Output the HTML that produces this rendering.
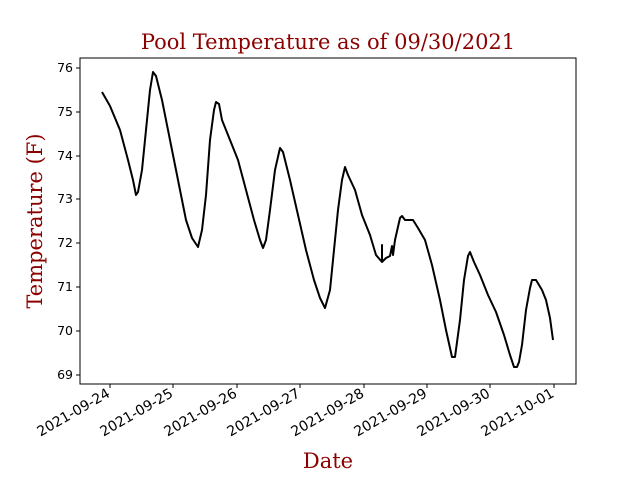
<!DOCTYPE html>
<html><head><style>body{margin:0;background:#fff}svg{display:block}</style></head><body>
<svg width="640" height="480" xmlns="http://www.w3.org/2000/svg" font-family="DejaVu Sans, Liberation Sans, sans-serif">
<rect x="80" y="58" width="496" height="326" fill="none" stroke="#000" stroke-width="1"/>
<g stroke="#000" stroke-width="1">
<line x1="80" y1="68" x2="76" y2="68"/><line x1="80" y1="112" x2="76" y2="112"/><line x1="80" y1="156" x2="76" y2="156"/><line x1="80" y1="199" x2="76" y2="199"/><line x1="80" y1="243" x2="76" y2="243"/><line x1="80" y1="287" x2="76" y2="287"/><line x1="80" y1="331" x2="76" y2="331"/><line x1="80" y1="375" x2="76" y2="375"/>
<line x1="110" y1="384" x2="110" y2="388"/><line x1="173" y1="384" x2="173" y2="388"/><line x1="237" y1="384" x2="237" y2="388"/><line x1="300" y1="384" x2="300" y2="388"/><line x1="364" y1="384" x2="364" y2="388"/><line x1="427" y1="384" x2="427" y2="388"/><line x1="490" y1="384" x2="490" y2="388"/><line x1="554" y1="384" x2="554" y2="388"/>
</g>
<g font-size="12.5" text-anchor="end">
<text x="73" y="72">76</text><text x="73" y="116">75</text><text x="73" y="160">74</text><text x="73" y="203">73</text><text x="73" y="247">72</text><text x="73" y="291">71</text><text x="73" y="335">70</text><text x="73" y="379">69</text>
</g>
<g font-size="14" text-anchor="end">
<text transform="translate(111,396) rotate(-30)">2021-09-24</text>
<text transform="translate(174,396) rotate(-30)">2021-09-25</text>
<text transform="translate(238,396) rotate(-30)">2021-09-26</text>
<text transform="translate(301,396) rotate(-30)">2021-09-27</text>
<text transform="translate(365,396) rotate(-30)">2021-09-28</text>
<text transform="translate(428,396) rotate(-30)">2021-09-29</text>
<text transform="translate(491,396) rotate(-30)">2021-09-30</text>
<text transform="translate(555,396) rotate(-30)">2021-10-01</text>
</g>
<polyline fill="none" stroke="#000" stroke-width="2" stroke-linejoin="round" points="102,92 110,106 120,130 128,160 133,180 136,195 138,192 142,170 146,130 150,90 153,72 156,76 162,100 170,140 178,180 186,220 192,238 198,247 202,230 206,195 210,140 214,110 216,102 219,104 222,120 230,140 238,160 246,190 254,220 260,240 263,248 266,240 270,210 275,170 280,148 283,152 290,180 298,215 306,250 314,280 320,298 325,308 330,290 334,250 338,210 342,180 345,167 348,175 355,190 362,215 370,235 376,255 382,262 382,245 382,262 386,258 390,256 392,246 393,255 395,240 400,218 402,216 405,220 413,220 418,228 425,240 432,265 440,300 446,330 452,357 455,357 460,320 464,280 468,256 470,252 474,262 480,275 488,295 496,312 504,335 510,355 514,367 517,367 519,362 522,345 526,310 530,288 532,280 536,280 542,290 546,300 550,318 553,340"/>
<text x="328" y="49" text-anchor="middle" font-family="DejaVu Serif, Liberation Serif, serif" font-size="21" fill="#8b0000">Pool Temperature as of 09/30/2021</text>
<text x="328" y="468" text-anchor="middle" font-family="DejaVu Serif, Liberation Serif, serif" font-size="21" fill="#8b0000">Date</text>
<text transform="translate(42,221) rotate(-90)" text-anchor="middle" font-family="DejaVu Serif, Liberation Serif, serif" font-size="21" fill="#8b0000">Temperature (F)</text>
</svg>
</body></html>
